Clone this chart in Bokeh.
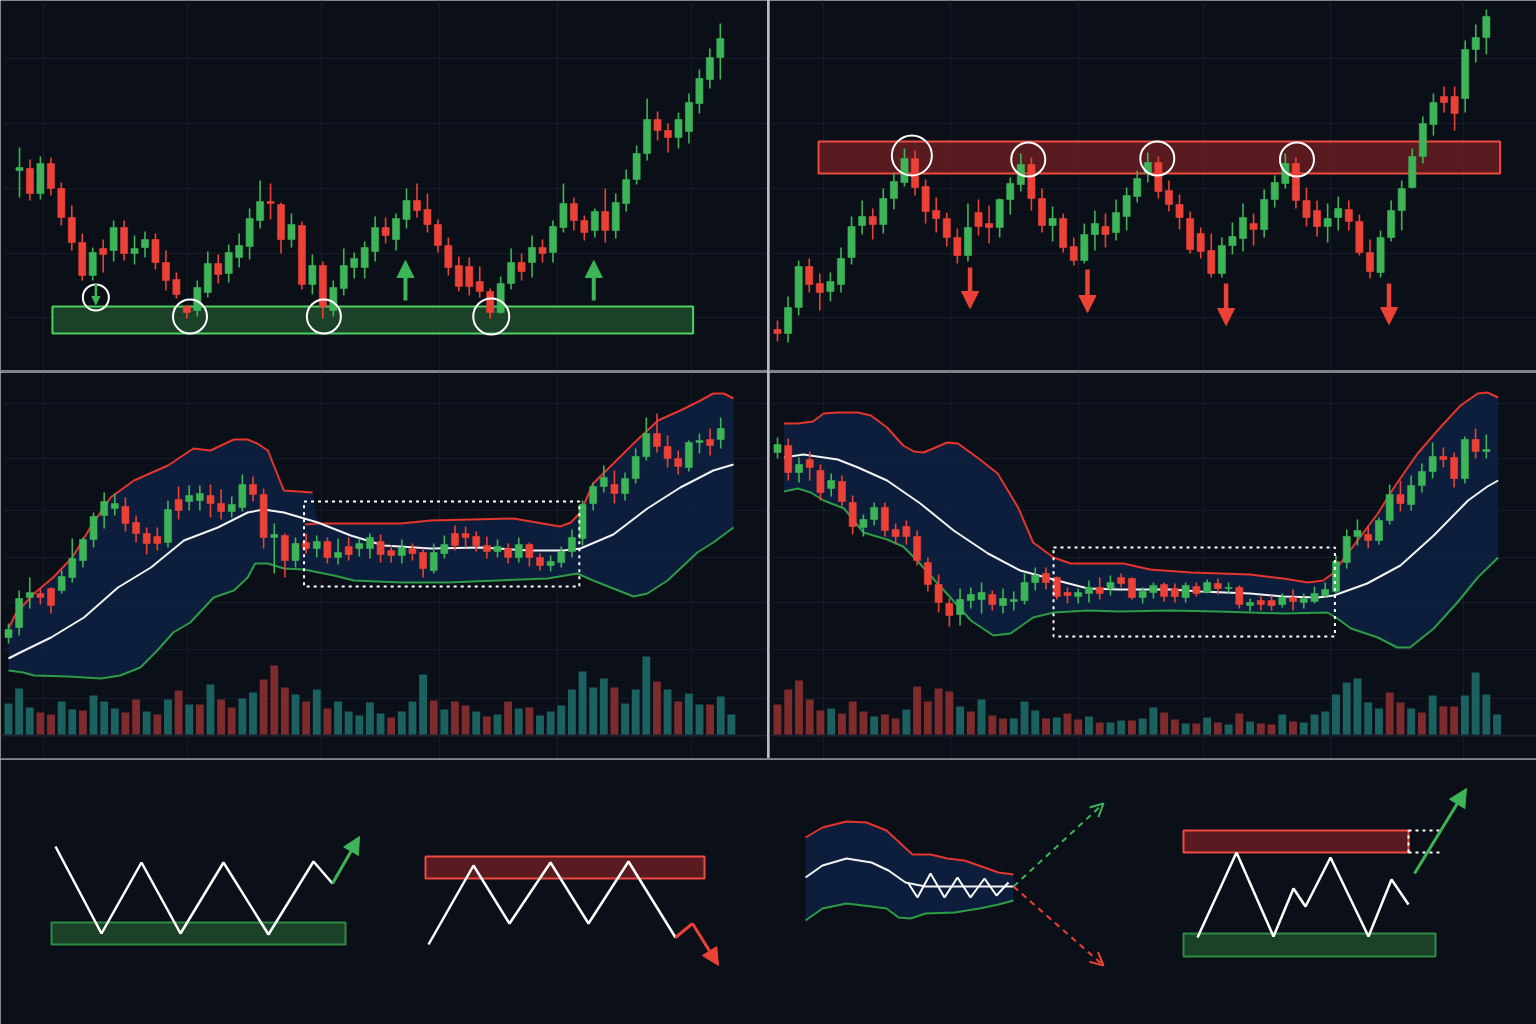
from bokeh.plotting import figure
from bokeh.models import (ColumnDataSource, Range1d, Arrow, NormalHead, OpenHead,
                          Grid, FixedTicker, Div, Span)
from bokeh.layouts import row, column
from bokeh.embed import file_html
from bokeh.resources import INLINE

# ---------------------------------------------------------------- palette
BG = "#0a0f18"
GRID_C = "#151c28"
UP = "#3cb457"
DOWN = "#ec4136"
VOL_UP = "#1c6a68"
VOL_DOWN = "#8a2f30"
BAND_FILL = "#0d2142"
BAND_UP = "#e5352c"
BAND_MID = "#f2f2f2"
BAND_LOW = "#2e9c46"
ZONE_G_FILL = "#1f4f2e"
ZONE_G_LINE = "#4fd062"
ZONE_R_FILL = "#6e1e23"
ZONE_R_LINE = "#ee4a40"

# ---------------------------------------------------------------- data: support (triple bottom)
sup_open = [200, 202, 177, 207, 182, 153, 128, 95, 122, 120, 143, 117, 123, 131, 108, 91, 64, 60, 78, 107,
            97, 113, 124, 150, 169, 166, 131, 145, 86, 105, 60, 82, 103, 103, 119, 143, 131, 151, 170, 161,
            146, 125, 105, 104, 89, 79, 58, 87, 108, 108, 123, 118, 143, 167, 150, 140, 159, 140, 167, 191,
            217, 251, 240, 233, 239, 267, 291, 313]
sup_high = [223, 211, 214, 213, 188, 165, 137, 123, 131, 150, 150, 135, 139, 137, 120, 98, 65, 90, 119, 116,
            126, 137, 162, 190, 187, 168, 157, 149, 116, 109, 90, 122, 118, 129, 154, 153, 157, 182, 187, 177,
            151, 133, 114, 113, 104, 82, 94, 122, 117, 135, 131, 150, 187, 173, 155, 162, 182, 177, 201, 225,
            272, 259, 247, 258, 277, 301, 322, 347]
sup_low = [173, 170, 171, 175, 145, 120, 90, 90, 98, 109, 110, 106, 113, 101, 80, 72, 52, 54, 73, 87,
           88, 103, 111, 142, 151, 117, 123, 81, 76, 52, 54, 75, 92, 92, 109, 127, 120, 142, 153, 138,
           118, 95, 79, 75, 73, 52, 57, 81, 90, 93, 108, 108, 138, 140, 130, 133, 128, 132, 159, 186,
           210, 230, 218, 222, 227, 257, 282, 291]
sup_close = [203, 177, 207, 182, 153, 128, 95, 118, 116, 143, 117, 122, 131, 108, 90, 76, 58, 83, 107, 96,
             118, 125, 152, 169, 167, 131, 146, 86, 105, 64, 83, 105, 112, 123, 143, 135, 152, 170, 160, 146,
             125, 103, 84, 84, 79, 58, 87, 108, 99, 123, 117, 144, 167, 150, 138, 159, 140, 168, 191, 217,
             251, 240, 233, 251, 268, 292, 313, 332]
sup_zone = dict(start=3.15, end=64.4, low=37, high=64)
sup_touch_x = [7.3, 16.3, 29.1, 45.1]
sup_touch_y = [73, 54, 54, 54]
sup_touch_size = [26, 34, 34, 36]
sup_bounce_x = [36.9, 54.9]
sup_bounce_from = [70, 70]
sup_bounce_to = [110, 110]

# ---------------------------------------------------------------- data: resistance (repeated tops)
res_open = [41, 37, 63, 104, 87, 79, 86, 113, 145, 154, 146, 172, 188, 212, 184, 160, 152, 133, 115, 158,
            147, 143, 171, 186, 206, 172, 145, 152, 124, 110, 136, 144, 138, 154, 174, 197, 208, 180, 166, 152,
            137, 120, 97, 125, 132, 147, 141, 171, 187, 207, 170, 160, 144, 153, 161, 149, 118, 98, 133, 160,
            183, 214, 246, 274, 274, 272, 321, 333]
res_high = [50, 74, 110, 112, 97, 98, 123, 154, 170, 162, 182, 198, 222, 220, 191, 173, 158, 142, 167, 171,
            165, 172, 193, 217, 213, 182, 164, 157, 133, 147, 160, 157, 171, 183, 200, 218, 214, 190, 176, 159,
            143, 137, 133, 148, 167, 157, 181, 195, 217, 213, 183, 170, 167, 174, 170, 156, 131, 140, 170, 190,
            222, 254, 277, 284, 284, 330, 346, 361]
res_low = [29, 28, 55, 78, 60, 69, 78, 106, 136, 131, 137, 161, 184, 175, 147, 138, 124, 107, 109, 135,
           127, 133, 156, 179, 160, 138, 129, 118, 105, 107, 120, 123, 130, 140, 168, 188, 172, 159, 141, 117,
           112, 93, 93, 116, 119, 125, 133, 163, 182, 162, 144, 134, 128, 140, 140, 115, 92, 93, 129, 140,
           182, 207, 235, 258, 240, 258, 308, 316]
res_close = [37, 63, 104, 86, 78, 89, 112, 144, 154, 146, 172, 189, 212, 183, 159, 152, 133, 115, 143, 144,
             143, 171, 187, 206, 172, 145, 152, 123, 110, 136, 147, 136, 158, 175, 192, 208, 179, 166, 153, 121,
             119, 97, 125, 134, 153, 141, 171, 188, 207, 170, 153, 144, 152, 162, 149, 118, 99, 133, 160, 182,
             214, 247, 268, 268, 257, 321, 333, 354]
res_zone = dict(start=3.88, end=68.3, low=197, high=229)
res_touch_x = [12.7, 23.7, 35.9, 49.1]
res_touch_y = [215, 211, 212, 211]
res_touch_size = [40, 34, 34, 34]
res_reject_x = [18.2, 29.3, 42.4, 57.8]
res_reject_from = [103, 101, 87, 87]
res_reject_to = [62, 58, 45, 46]

# ---------------------------------------------------------------- data: squeeze then breakout up
sq1_open = [121, 131, 161, 165, 170, 168, 181, 198, 219, 243, 250, 252, 236, 225, 222, 216, 259, 257, 258, 263,
            255, 247, 251, 274, 264, 221, 223, 198, 216, 210, 217, 201, 212, 210, 210, 217, 208, 203, 210, 206,
            188, 205, 225, 225, 222, 213, 207, 210, 201, 214, 201, 193, 196, 207, 220, 255, 272, 274, 265, 280,
            302, 325, 312, 300, 291, 316, 319, 319]
sq1_high = [135, 168, 181, 170, 171, 188, 220, 221, 246, 266, 265, 261, 243, 231, 231, 258, 272, 273, 273, 274,
            269, 262, 284, 282, 270, 235, 225, 221, 225, 223, 221, 220, 221, 220, 225, 224, 213, 219, 215, 210,
            215, 223, 233, 232, 227, 222, 219, 215, 221, 216, 205, 203, 212, 229, 258, 276, 293, 288, 286, 310,
            341, 345, 323, 308, 318, 325, 330, 341]
sq1_low = [115, 123, 150, 154, 145, 165, 176, 191, 211, 230, 243, 227, 216, 204, 208, 211, 239, 248, 248, 241,
           239, 241, 247, 257, 210, 185, 181, 191, 205, 201, 195, 194, 198, 202, 200, 196, 196, 195, 198, 181,
           185, 200, 208, 211, 207, 200, 201, 195, 196, 192, 188, 187, 191, 201, 213, 248, 266, 255, 258, 275,
           298, 306, 291, 284, 287, 305, 303, 310]
sq1_close = [129, 160, 166, 161, 153, 182, 200, 219, 242, 257, 255, 235, 225, 215, 215, 249, 248, 263, 265, 255,
             247, 254, 274, 264, 221, 224, 198, 215, 210, 217, 201, 206, 204, 215, 221, 204, 203, 211, 205, 190,
             206, 214, 213, 221, 213, 207, 212, 201, 214, 201, 193, 197, 207, 221, 254, 272, 281, 265, 280, 302,
             325, 312, 300, 292, 316, 318, 313, 330]
sq1_upper_a_x = [0.0, 0.7, 2.4, 4.2, 6.0, 7.7, 9.6, 11.8, 15.0, 17.4, 19.0, 21.2, 22.5, 23.4, 24.4, 25.9, 28.6]
sq1_upper_a_y = [130, 145, 165, 181, 201, 231, 261, 278, 293, 310, 308, 319, 319, 315, 308, 268, 266]
sq1_upper_b_x = [27.9, 29.1, 36.9, 39.7, 43.5, 47.5, 51.9, 52.9, 53.8, 55.0, 56.9, 58.8, 61.1, 63.2, 65.1, 66.3,
                 67.3, 68.2]
sq1_upper_b_y = [234, 235, 235, 238, 239, 240, 232, 236, 246, 275, 295, 315, 338, 348, 358, 365, 365, 360]
sq1_mid_x = [0.0, 1.1, 4.0, 7.1, 10.3, 13.4, 16.5, 19.7, 22.5, 24.0, 25.9, 29.1, 32.2, 35.3, 39.7, 44.4, 49.1,
             52.2, 53.8, 56.9, 60.1, 63.2, 66.3, 68.2]
sq1_mid_y = [100, 106, 121, 141, 171, 191, 218, 231, 246, 249, 246, 236, 223, 213, 210, 211, 208, 208, 210, 224,
             250, 271, 288, 294]
sq1_lower_x = [0.0, 1.4, 2.4, 5.6, 8.7, 10.5, 12.4, 14.0, 15.5, 17.1, 19.3, 21.2, 22.5, 23.2, 24.4, 25.9, 27.8,
               30.6, 32.5, 36.9, 41.3, 50.7, 53.5, 55.0, 56.9, 58.8, 60.1, 62.0, 64.8, 66.3, 68.2]
sq1_lower_y = [88, 86, 83, 82, 80, 83, 91, 108, 126, 136, 161, 168, 181, 195, 195, 190, 189, 183, 178, 176, 176,
               180, 185, 178, 170, 162, 165, 178, 206, 216, 231]
sq1_volume = [32, 47, 28, 23, 21, 34, 26, 25, 40, 34, 27, 23, 36, 24, 21, 36, 45, 31, 31, 51,
              36, 28, 37, 43, 56, 70, 48, 41, 34, 46, 27, 34, 24, 20, 33, 22, 18, 24, 34, 61,
              35, 26, 34, 30, 24, 19, 21, 34, 27, 28, 20, 24, 30, 46, 64, 48, 57, 48, 32, 46,
              79, 54, 46, 34, 42, 31, 31, 39, 21]
sq1_volume_side = "UUUDDUUDUUUDDUDUDUDUDDUUDDDUDUDUUUUUDUUUDUDDUDUDUDUUUUUUUDUUUDUDUUDUU"
sq1_box = dict(start=27.8, end=53.7, low=172, high=257)

# ---------------------------------------------------------------- data: decline, squeeze, breakout up
sq2_open = [306, 313, 286, 299, 288, 270, 277, 256, 231, 239, 251, 229, 232, 222, 196, 174, 155, 144, 158, 159,
            164, 153, 157, 158, 176, 185, 181, 166, 162, 165, 171, 170, 181, 180, 161, 166, 174, 170, 161, 172,
            166, 175, 170, 171, 153, 158, 158, 154, 161, 156, 157, 163, 167, 196, 222, 224, 218, 238, 264, 254,
            273, 287, 302, 301, 280, 319, 307]
sq2_high = [321, 320, 301, 307, 294, 285, 283, 263, 244, 256, 256, 235, 238, 228, 201, 184, 160, 170, 171, 176,
            168, 170, 167, 185, 191, 191, 182, 171, 170, 178, 181, 183, 185, 181, 171, 176, 176, 175, 176, 176,
            179, 180, 176, 173, 160, 162, 163, 165, 169, 165, 172, 176, 203, 229, 239, 233, 241, 274, 278, 283,
            295, 316, 311, 306, 322, 330, 324]
sq2_low = [300, 278, 276, 278, 258, 262, 252, 224, 222, 233, 222, 214, 214, 193, 167, 146, 132, 133, 150, 145,
           148, 145, 148, 154, 168, 169, 159, 155, 155, 156, 159, 163, 171, 159, 155, 160, 157, 156, 156, 162,
           165, 164, 165, 150, 147, 148, 148, 151, 148, 150, 155, 161, 165, 190, 213, 210, 214, 234, 247, 248,
           266, 280, 291, 271, 275, 300, 300]
sq2_close = [314, 286, 294, 291, 266, 278, 257, 232, 239, 251, 228, 222, 222, 198, 174, 156, 143, 159, 164, 166,
             154, 160, 159, 176, 183, 176, 162, 163, 166, 171, 165, 176, 175, 161, 167, 173, 162, 162, 173, 165,
             176, 170, 171, 154, 156, 154, 153, 161, 157, 160, 165, 169, 197, 222, 228, 218, 238, 264, 255, 273,
             287, 302, 299, 280, 319, 307, 309]
sq2_upper_x = [0.6, 1.9, 3.3, 4.3, 5.6, 7.5, 8.7, 10.2, 11.7, 12.7, 13.6, 14.5, 15.8, 16.8, 18.6, 20.5, 22.4,
               23.8, 25.7, 27.3, 30.4, 32.2, 34.7, 38.5, 44.0, 47.1, 49.4, 50.8, 51.7, 52.4, 54.0, 55.9, 57.4,
               59.6, 61.7, 63.6, 65.2, 66.1, 67.1]
sq2_upper_y = [335, 335, 337, 345, 346, 346, 343, 331, 313, 307, 306, 310, 316, 315, 301, 285, 251, 216, 201,
               195, 195, 195, 189, 186, 184, 180, 176, 178, 185, 195, 218, 245, 271, 305, 331, 353, 365, 366, 361]
sq2_mid_x = [0.6, 2.4, 5.6, 7.5, 10.2, 13.3, 16.4, 19.6, 22.6, 25.7, 28.9, 31.9, 36.6, 39.4, 44.0, 47.1, 50.3,
             51.8, 54.9, 58.0, 61.1, 64.3, 66.1, 67.1]
sq2_mid_y = [301, 304, 299, 291, 278, 255, 228, 205, 188, 179, 170, 169, 169, 167, 165, 162, 161, 163, 175, 193,
             223, 258, 272, 278]
sq2_lower_x = [0.6, 1.9, 3.1, 4.3, 6.2, 8.0, 10.2, 11.7, 13.0, 14.9, 16.1, 18.0, 20.1, 21.7, 23.8, 25.7, 28.9,
               31.9, 36.6, 41.0, 47.1, 51.2, 52.0, 53.4, 55.9, 57.7, 58.9, 61.1, 63.3, 65.2, 67.1]
sq2_lower_y = [267, 270, 266, 258, 250, 226, 219, 212, 198, 175, 161, 138, 123, 125, 141, 146, 148, 147, 148,
               147, 145, 146, 141, 130, 121, 111, 111, 130, 156, 181, 201]
sq2_volume = [31, 46, 55, 36, 25, 27, 22, 34, 24, 19, 21, 17, 26, 49, 34, 47, 44, 29, 24, 36,
              20, 17, 17, 34, 25, 17, 18, 22, 16, 19, 13, 13, 15, 15, 17,
              28, 23, 16, 12, 12, 18, 13, 11, 22, 14, 12, 11, 21, 14, 13, 21, 24, 41, 53, 57,
              33, 27, 43, 33, 27, 23, 40, 29, 29, 40, 63, 41, 21]
sq2_volume_side = "DDDDDUDDDUDDUDDDDUDUDDUUUDUDDUDUUDUUDDUDUDUDUDDUDUUUUUUUUDDUDUDDUUUU"
sq2_box = dict(start=25.7, end=51.9, low=122, high=211)

# ---------------------------------------------------------------- data: pattern sketches (bottom strip)
db_line_x = [55, 101, 141, 180, 223, 268, 313, 332]
db_line_y = [178, 91, 162, 91, 162, 90, 163, 141]
db_zone = dict(start=51, end=345, low=80, high=102)
db_break = dict(x0=332, y0=141, x1=359, y1=188)

tt_line_x = [428, 473, 509, 550, 588, 628, 675]
tt_line_y = [80, 159, 101, 162, 101, 163, 87]
tt_zone = dict(start=425, end=704, low=146, high=168)
tt_tail_x = [675, 692]
tt_tail_y = [87, 101]
tt_break = dict(x0=692, y0=101, x1=718, y1=59)

bb_upper_x = [805, 822, 846, 866, 886, 900, 912, 930, 947, 964, 984, 998, 1013]
bb_upper_y = [187, 197, 203, 202, 194, 181, 170, 170, 166, 164, 157, 152, 150]
bb_mid_x = [805, 822, 846, 871, 888, 905, 925, 964, 1013]
bb_mid_y = [147, 159, 166, 162, 154, 142, 138, 138, 138]
bb_lower_x = [805, 822, 846, 871, 886, 898, 910, 925, 954, 979, 998, 1013]
bb_lower_y = [104, 116, 121, 118, 116, 107, 106, 111, 112, 116, 120, 124]
bb_zig_x = [908, 917, 930, 944, 957, 970, 984, 996, 1008]
bb_zig_y = [141, 127, 151, 127, 147, 127, 146, 129, 142]
bb_up = dict(x0=1013, y0=138, x1=1103, y1=221)
bb_down = dict(x0=1013, y0=138, x1=1103, y1=59)

rg_res = dict(start=1183, end=1408, low=172, high=194)
rg_sup = dict(start=1183, end=1435, low=68, high=91)
rg_line_x = [1197, 1236, 1273, 1293, 1305, 1330, 1368, 1391, 1408]
rg_line_y = [87, 172, 88, 136, 118, 167, 88, 145, 120]
rg_ext = dict(start=1408, end=1439, low=172, high=194)
rg_break = dict(x0=1414, y0=151, x1=1466, y1=236)

# ---------------------------------------------------------------- grid positions
top_l_grid_x = [2.29, 16.06, 28.87, 40.15, 51.43, 64.24]
top_r_grid_x = [4.35, 16.35, 28.45, 40.26, 52.27, 64.84]
mid_l_grid_x = [3.29, 16.84, 29.45, 40.55, 51.65, 64.25]
mid_r_grid_x = [4.28, 16.11, 28.03, 39.66, 51.49, 63.87]
top_grid_y = [312, 247, 182, 117, 53]
mid_grid_y = [355, 300, 248, 201, 156, 109, 60]


def make_panel(width, height, xr, yr, gx=None, gy=None):
    p = figure(width=width, height=height, x_range=Range1d(*xr), y_range=Range1d(*yr),
               output_backend="svg", toolbar_location=None, min_border=0,
               x_axis_location=None, y_axis_location=None,
               background_fill_color=BG, border_fill_color=BG, outline_line_color=None)
    # drop the default grids; only fixed, faint guide lines are drawn
    p.renderers = [r for r in p.renderers if not isinstance(r, Grid)]
    for g in list(p.center):
        if isinstance(g, Grid):
            g.visible = False
    if gx:
        p.add_layout(Grid(dimension=0, ticker=FixedTicker(ticks=gx), grid_line_color=GRID_C,
                          grid_line_width=1))
    if gy:
        p.add_layout(Grid(dimension=1, ticker=FixedTicker(ticks=gy), grid_line_color=GRID_C,
                          grid_line_width=1))
    return p


def draw_candles(p, o, h, l, c, w):
    x = list(range(len(o)))
    src = ColumnDataSource(dict(
        x=x, h=h, l=l,
        top=[max(a, b) for a, b in zip(o, c)],
        bot=[min(a, b) for a, b in zip(o, c)],
        col=[UP if b >= a else DOWN for a, b in zip(o, c)],
    ))
    p.segment(x0="x", y0="h", x1="x", y1="l", line_color="col", line_width=1.6, source=src)
    p.vbar(x="x", width=w, top="top", bottom="bot", fill_color="col", line_color="col",
           line_width=0.6, source=src)


def draw_zone(p, z, fill, line):
    p.quad(left=[z["start"]], right=[z["end"]], bottom=[z["low"]], top=[z["high"]],
           fill_color=fill, fill_alpha=0.8, line_color=line, line_width=2)


def draw_arrows(p, xs, y0, y1, color, head, width):
    src = ColumnDataSource(dict(x=xs, y0=y0, y1=y1))
    p.add_layout(Arrow(end=NormalHead(size=head, fill_color=color, line_color=color),
                       x_start="x", y_start="y0", x_end="x", y_end="y1", source=src,
                       line_color=color, line_width=width))


def draw_volume(p, vols, sides):
    p.extra_y_ranges = {"vol": Range1d(-23, 363)}
    src = ColumnDataSource(dict(x=list(range(len(vols))), v=vols,
                                col=[VOL_UP if s == "U" else VOL_DOWN for s in sides]))
    p.vbar(x="x", width=0.74, top="v", bottom=0, y_range_name="vol", fill_color="col",
           fill_alpha=0.9, line_color=None, source=src)
    p.add_layout(Span(location=0, dimension="width", y_range_name="vol",
                      line_color="#1a212c", line_width=2))


def draw_bands(p, ux, uy, mx, my, lx, ly):
    fx = list(ux) + list(reversed(lx))
    fy = list(uy) + list(reversed(ly))
    p.patch(fx, fy, fill_color=BAND_FILL, fill_alpha=0.85, line_color=None)
    p.line(ux, uy, line_color=BAND_UP, line_width=2)
    p.line(lx, ly, line_color=BAND_LOW, line_width=2)
    p.line(mx, my, line_color=BAND_MID, line_width=2)


def draw_box(p, b):
    p.quad(left=[b["start"]], right=[b["end"]], bottom=[b["low"]], top=[b["high"]],
           fill_color=None, line_color="white", line_width=2, line_dash="3 4")


# ---------------------------------------------------------------- support panel
p1 = make_panel(767, 370, (-1.816, 71.51), (0, 370), top_l_grid_x, top_grid_y)
draw_zone(p1, sup_zone, ZONE_G_FILL, ZONE_G_LINE)
draw_candles(p1, sup_open, sup_high, sup_low, sup_close, 0.68)
p1.scatter(sup_touch_x, sup_touch_y, size=sup_touch_size, marker="circle", fill_color=None,
           line_color="white", line_width=2)
draw_arrows(p1, sup_bounce_x, sup_bounce_from, sup_bounce_to, UP, 17, 4)
draw_arrows(p1, [sup_touch_x[0]], [87], [66], UP, 8, 2.5)

# ---------------------------------------------------------------- resistance panel
p2 = make_panel(767, 370, (-0.756, 71.74), (0, 370), top_r_grid_x, top_grid_y)
draw_zone(p2, res_zone, ZONE_R_FILL, ZONE_R_LINE)
draw_candles(p2, res_open, res_high, res_low, res_close, 0.68)
p2.scatter(res_touch_x, res_touch_y, size=res_touch_size, marker="circle", fill_color=None,
           line_color="white", line_width=2)
draw_arrows(p2, res_reject_x, res_reject_from, res_reject_to, DOWN, 17, 4.5)

# ---------------------------------------------------------------- squeeze panel (left)
p3 = make_panel(767, 386, (-0.753, 71.40), (0, 386), mid_l_grid_x, mid_grid_y)
top_x = sq1_upper_a_x + [x for x in sq1_upper_b_x if x > sq1_upper_a_x[-1]]
top_y = sq1_upper_a_y + [y for x, y in zip(sq1_upper_b_x, sq1_upper_b_y) if x > sq1_upper_a_x[-1]]
p3.patch(top_x + list(reversed(sq1_lower_x)), top_y + list(reversed(sq1_lower_y)),
         fill_color=BAND_FILL, fill_alpha=0.85, line_color=None)
p3.line(sq1_upper_a_x, sq1_upper_a_y, line_color=BAND_UP, line_width=2)
p3.line(sq1_upper_b_x, sq1_upper_b_y, line_color=BAND_UP, line_width=2)
p3.line(sq1_lower_x, sq1_lower_y, line_color=BAND_LOW, line_width=2)
p3.line(sq1_mid_x, sq1_mid_y, line_color=BAND_MID, line_width=2)
draw_volume(p3, sq1_volume, sq1_volume_side)
draw_candles(p3, sq1_open, sq1_high, sq1_low, sq1_close, 0.66)
draw_box(p3, sq1_box)

# ---------------------------------------------------------------- squeeze panel (right)
p4 = make_panel(767, 386, (-0.745, 70.67), (0, 386), mid_r_grid_x, mid_grid_y)
draw_bands(p4, sq2_upper_x, sq2_upper_y, sq2_mid_x, sq2_mid_y, sq2_lower_x, sq2_lower_y)
draw_volume(p4, sq2_volume, sq2_volume_side)
draw_candles(p4, sq2_open, sq2_high, sq2_low, sq2_close, 0.66)
draw_box(p4, sq2_box)

# ---------------------------------------------------------------- pattern sketches
p5 = make_panel(1536, 265, (0, 1536), (0, 265))

draw_zone(p5, db_zone, ZONE_G_FILL, "#2f8a44")
p5.line(db_line_x, db_line_y, line_color="white", line_width=2.5)
p5.add_layout(Arrow(end=NormalHead(size=17, fill_color=UP, line_color=UP),
                    x_start=db_break["x0"], y_start=db_break["y0"],
                    x_end=db_break["x1"], y_end=db_break["y1"], line_color=UP, line_width=3))

draw_zone(p5, tt_zone, ZONE_R_FILL, ZONE_R_LINE)
p5.line(tt_line_x, tt_line_y, line_color="white", line_width=2.5)
p5.line(tt_tail_x, tt_tail_y, line_color=DOWN, line_width=3)
p5.add_layout(Arrow(end=NormalHead(size=17, fill_color=DOWN, line_color=DOWN),
                    x_start=tt_break["x0"], y_start=tt_break["y0"],
                    x_end=tt_break["x1"], y_end=tt_break["y1"], line_color=DOWN, line_width=3))

draw_bands(p5, bb_upper_x, bb_upper_y, bb_mid_x, bb_mid_y, bb_lower_x, bb_lower_y)
p5.line(bb_zig_x, bb_zig_y, line_color="white", line_width=2)
for arr, col in ((bb_up, UP), (bb_down, DOWN)):
    p5.add_layout(Arrow(end=OpenHead(size=13, line_color=col, line_width=2),
                        x_start=arr["x0"], y_start=arr["y0"], x_end=arr["x1"], y_end=arr["y1"],
                        line_color=col, line_width=2, line_dash="6 5"))

draw_zone(p5, rg_res, ZONE_R_FILL, ZONE_R_LINE)
draw_zone(p5, rg_sup, ZONE_G_FILL, "#2f8a44")
p5.line(rg_line_x, rg_line_y, line_color="white", line_width=2.5)
p5.multi_line(xs=[[rg_ext["start"], rg_ext["end"]], [rg_ext["start"], rg_ext["end"]],
                  [rg_ext["start"], rg_ext["start"]]],
              ys=[[rg_ext["high"], rg_ext["high"]], [rg_ext["low"], rg_ext["low"]],
                  [rg_ext["low"], rg_ext["high"]]],
              line_color="white", line_width=2, line_dash="3 4")
p5.add_layout(Arrow(end=NormalHead(size=18, fill_color=UP, line_color=UP),
                    x_start=rg_break["x0"], y_start=rg_break["y0"],
                    x_end=rg_break["x1"], y_end=rg_break["y1"], line_color=UP, line_width=3))


# ---------------------------------------------------------------- layout with divider rules
def rule(w, h, color):
    return Div(text="", width=w, height=h, margin=0, styles={"background-color": color})


left = column(p1, rule(767, 2, "#7d838b"), p3, spacing=0)
right = column(p2, rule(767, 2, "#7d838b"), p4, spacing=0)
top = row(left, rule(2, 758, "#b9bdc3"), right, spacing=0)
page = column(top, rule(1536, 1, "#6f757d"), p5, spacing=0)

open("out.html", "w").write(file_html(page, INLINE))
